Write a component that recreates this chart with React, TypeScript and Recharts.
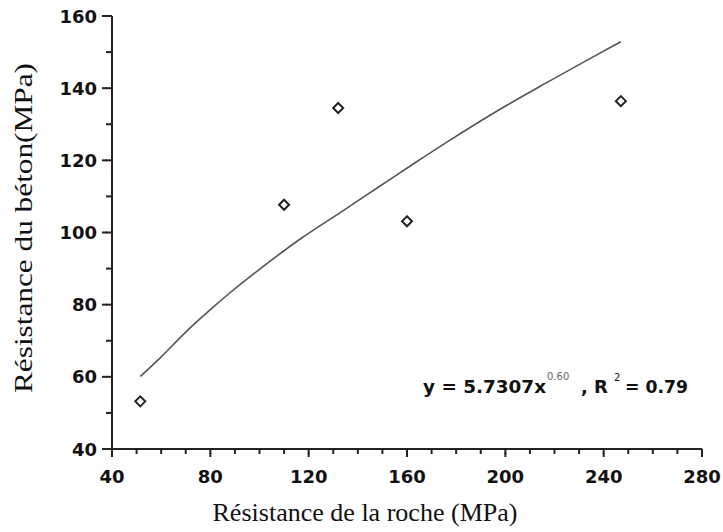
import { ComposedChart, XAxis, YAxis, Scatter, Line, Customized } from "recharts";

// measured pairs (rock strength vs concrete strength, MPa)
const roche = [51.5, 110, 132, 160, 247];
const beton = [53.2, 107.7, 134.5, 103.1, 136.4];

// power trend curve as read along its length
const courbeX = [51.5, 59.5, 70, 80, 88, 100, 117, 133, 148, 163, 177.5, 197, 217, 232, 247];
const courbeY = [60.1, 65.2, 72.4, 78.6, 83.3, 89.8, 98.4, 105.6, 112.4, 119.2, 125.6, 133.8, 141.6, 147.3, 152.9];

const xTicks = [40, 50, 60, 70, 80, 90, 100, 110, 120, 130, 140, 150, 160, 170, 180, 190, 200, 210, 220, 230, 240, 250, 260, 270, 280];
const yTicks = [40, 50, 60, 70, 80, 90, 100, 110, 120, 130, 140, 150, 160];

const points = roche.map((x, i) => ({ x, y: beton[i] }));
const curve = courbeX.map((x, i) => ({ x, y: courbeY[i] }));

const AXIS = "#222";
const TICK_FONT = "'DejaVu Sans', sans-serif";

// left labels every 20; the short tick comes from the axis, majors get extended
const YTick = (props: any) => {
  const { x, y, payload } = props;
  const major = payload.value % 20 === 0;
  if (!major) return <g />;
  return (
    <g>
      <path d={`M${x - 4},${y}H${x + 1}`} stroke={AXIS} strokeWidth={2} fill="none" />
      <text x={x - 9} y={y + 6.5} textAnchor="end" fontFamily={TICK_FONT} fontWeight="bold" fontSize={18} fill="#111">
        {payload.value}
      </text>
    </g>
  );
};

// bottom labels every 40
const XTick = (props: any) => {
  const { x, y, payload } = props;
  const major = payload.value % 40 === 0;
  if (!major) return <g />;
  return (
    <g>
      <path d={`M${x},${y - 1}V${y + 3}`} stroke={AXIS} strokeWidth={2} fill="none" />
      <text x={x} y={y + 29} textAnchor="middle" fontFamily={TICK_FONT} fontWeight="bold" fontSize={18} fill="#111">
        {payload.value}
      </text>
    </g>
  );
};

const Diamond = ({ cx, cy }: any) => (
  <polygon
    points={`${cx},${cy - 5} ${cx + 5},${cy} ${cx},${cy + 5} ${cx - 5},${cy}`}
    fill="#fff"
    stroke="#222"
    strokeWidth={2}
  />
);

// axis titles and the regression equation
const Annotations = () => (
  <g>
    <text
      x={365}
      y={521}
      textAnchor="middle"
      fontFamily="'Liberation Serif', serif"
      fontSize={25}
      fill="#111"
      textLength={305}
      lengthAdjust="spacingAndGlyphs"
    >
      Résistance de la roche (MPa)
    </text>
    <text
      x={32}
      y={228}
      transform="rotate(-90 32 228)"
      textAnchor="middle"
      fontFamily="'Liberation Serif', serif"
      fontSize={25}
      fill="#111"
      textLength={330}
      lengthAdjust="spacingAndGlyphs"
    >
      Résistance du béton(MPa)
    </text>
    <g fontFamily={TICK_FONT} fontWeight="bold" fill="#111">
      <text x={423} y={393} fontSize={18} textLength={123} lengthAdjust="spacingAndGlyphs">y = 5.7307x</text>
      <text x={547} y={380} fontSize={10} fontWeight="normal" fill="#666">0.60</text>
      <text x={581} y={393} fontSize={18}>, R</text>
      <text x={614} y={381} fontSize={10} fontWeight="normal">2</text>
      <text x={625} y={393} fontSize={18} textLength={63} lengthAdjust="spacingAndGlyphs">= 0.79</text>
    </g>
  </g>
);

export default function App() {
  return (
    <div style={{ position: "absolute", left: 0, top: 0, width: 723, height: 532, background: "#fff" }}>
      <ComposedChart width={723} height={532} margin={{ top: 16, right: 21, bottom: 53, left: 52 }}>
        <XAxis
          type="number"
          dataKey="x"
          domain={[40, 280]}
          ticks={xTicks}
          interval={0}
          tickSize={5}
          tickMargin={0}
          tickLine={{ stroke: AXIS, strokeWidth: 2 }}
          tick={<XTick />}
          axisLine={{ stroke: AXIS, strokeWidth: 2 }}
          height={30}
        />
        <YAxis
          type="number"
          dataKey="y"
          domain={[40, 160]}
          ticks={yTicks}
          interval={0}
          tickSize={6}
          tickMargin={0}
          tickLine={{ stroke: AXIS, strokeWidth: 2 }}
          tick={<YTick />}
          axisLine={{ stroke: AXIS, strokeWidth: 2 }}
          width={60}
        />
        <Line
          data={curve}
          dataKey="y"
          type="monotone"
          stroke="#555"
          strokeWidth={1.6}
          dot={false}
          activeDot={false}
          isAnimationActive={false}
        />
        <Scatter data={points} dataKey="y" shape={<Diamond />} isAnimationActive={false} />
        <Customized component={Annotations} />
      </ComposedChart>
    </div>
  );
}
